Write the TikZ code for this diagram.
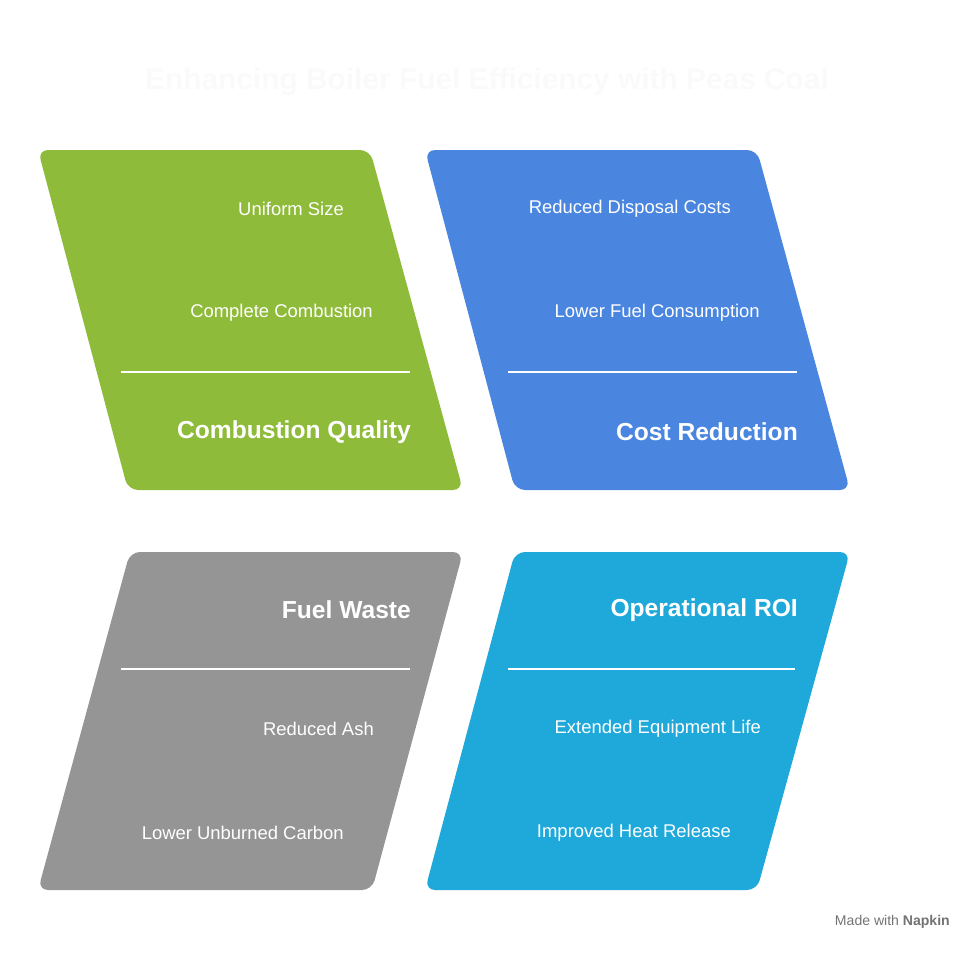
\documentclass[tikz,border=0pt]{standalone}
\usepackage{fontspec}
\setmainfont{Liberation Sans}
\usetikzlibrary{positioning}
\definecolor{grn}{HTML}{8FBB3A}
\definecolor{blu}{HTML}{4A86E0}
\definecolor{gry}{HTML}{959595}
\definecolor{cyn}{HTML}{1EA9DA}
\tikzset{
    panel/.style = {rounded corners=0.2cm, draw=none},
    item/.style = {anchor=east, text=white, font=\fontsize{10.5}{12}\selectfont},
    head/.style = {anchor=east, text=white, font=\bfseries\fontsize{14}{16}\selectfont},
    rule/.style = {draw=white, line width=0.8pt}
}
\begin{document}
\begin{tikzpicture}[x=0.02cm,y=-0.02cm]
    \useasboundingbox (0,0) rectangle (980,953);
    \node [text=black!2, font=\bfseries\fontsize{17}{20}\selectfont] (title) at (487,82) {Enhancing Boiler Fuel Efficiency with Peas Coal};
    % panels
    \fill [panel, grn] (38,150) -- (370,150) -- (463,490) -- (128,490) -- cycle;
    \fill [panel, blu] (425,150) -- (757,150) -- (850,490) -- (515,490) -- cycle;
    \fill [panel, gry] (130,552) -- (463,552) -- (372,890) -- (38,890) -- cycle;
    \fill [panel, cyn] (515,552) -- (850,552) -- (757,890) -- (425,890) -- cycle;
    % combustion quality
    \node [item] (cq1) at (350,209) {Uniform Size};
    \node [item] (cq2) at (379,313) {Complete Combustion};
    \coordinate (cqa) at (121,372);
    \coordinate (cqb) at (410,372);
    \draw [rule] (cqa) -- (cqb);
    \node [head] (cq) at (417,432) {Combustion Quality};
    % cost reduction
    \node [item] (cr1) at (737,209) {Reduced Disposal Costs};
    \node [item] (cr2) at (766,313) {Lower Fuel Consumption};
    \coordinate (cra) at (508,372);
    \coordinate (crb) at (797,372);
    \draw [rule] (cra) -- (crb);
    \node [head] (cr) at (804,432) {Cost Reduction};
    % fuel waste
    \node [head] (fw) at (417,610) {Fuel Waste};
    \coordinate (fwa) at (121,669);
    \coordinate (fwb) at (410,669);
    \draw [rule] (fwa) -- (fwb);
    \node [item] (fw1) at (380,729) {Reduced Ash};
    \node [item] (fw2) at (350,833) {Lower Unburned Carbon};
    % operational roi
    \node [head] (or) at (804,610) {Operational ROI};
    \coordinate (ora) at (508,669);
    \coordinate (orb) at (795,669);
    \draw [rule] (ora) -- (orb);
    \node [item] (or1) at (767,729) {Extended Equipment Life};
    \node [item] (or2) at (737,833) {Improved Heat Release};
    \node [anchor=east, text=black!55, font=\fontsize{8}{10}\selectfont] (made) at (956,922) {Made with \textbf{Napkin}};
\end{tikzpicture}
\end{document}
